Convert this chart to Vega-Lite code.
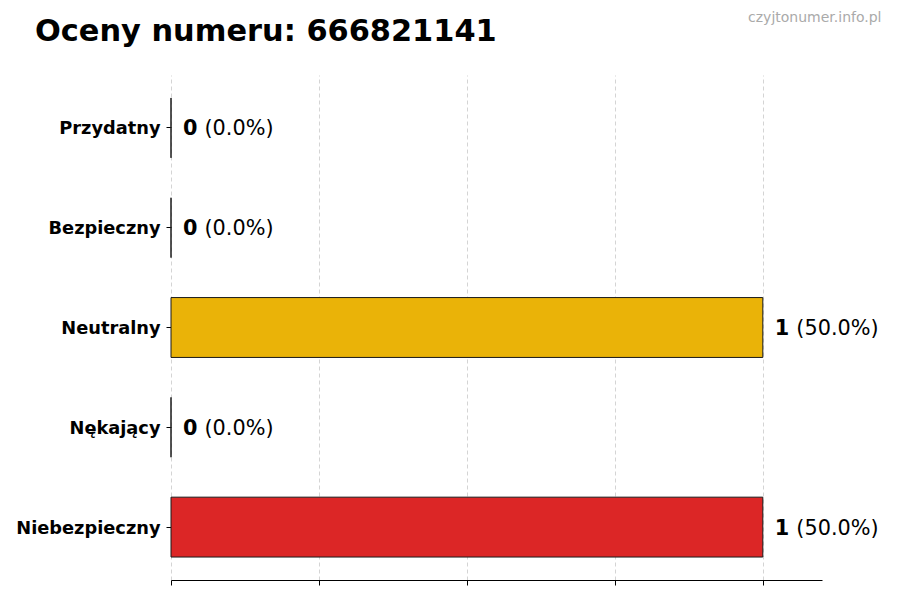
{
  "$schema": "https://vega.github.io/schema/vega-lite/v6.json",
  "width": 651,
  "height": 505,
  "autosize": {"type": "none"},
  "padding": {"left": 171, "top": 75, "right": 78, "bottom": 20},
  "background": "white",
  "config": {"font": "DejaVu Sans", "view": {"stroke": null}},
  "title": {
    "text": "Oceny numeru: 666821141",
    "anchor": "start",
    "frame": "group",
    "dx": -136,
    "dy": 61,
    "offset": 0,
    "baseline": "alphabetic",
    "fontSize": 30.4,
    "fontWeight": "bold",
    "color": "black"
  },
  "data": {
    "values": [
      {"ocena": "Przydatny", "liczba": 0, "procent": "(0.0%)"},
      {"ocena": "Bezpieczny", "liczba": 0, "procent": "(0.0%)"},
      {"ocena": "Neutralny", "liczba": 1, "procent": "(50.0%)"},
      {"ocena": "Nękający", "liczba": 0, "procent": "(0.0%)"},
      {"ocena": "Niebezpieczny", "liczba": 1, "procent": "(50.0%)"}
    ]
  },
  "encoding": {
    "y": {
      "field": "ocena",
      "type": "nominal",
      "sort": ["Przydatny", "Bezpieczny", "Neutralny", "Nękający", "Niebezpieczny"],
      "scale": {"paddingInner": 0.4, "paddingOuter": 0.23},
      "axis": {
        "title": null,
        "domain": false,
        "tickColor": "black",
        "tickSize": 5,
        "labelPadding": 6,
        "labelOffset": 1.5,
        "labelFontSize": 17.8,
        "labelFontWeight": "bold",
        "labelColor": "black"
      }
    }
  },
  "layer": [
    {
      "mark": {"type": "bar", "stroke": "#1a1a1a", "strokeWidth": 1},
      "encoding": {
        "x": {
          "field": "liczba",
          "type": "quantitative",
          "scale": {"domain": [0, 1.1], "nice": false},
          "axis": {
            "title": null,
            "labels": false,
            "values": [0, 0.25, 0.5, 0.75, 1],
            "tickSize": 5,
            "tickColor": "black",
            "domainColor": "black",
            "grid": true,
            "gridDash": [4, 3],
            "gridColor": "#d4d4d4"
          }
        },
        "color": {
          "field": "ocena",
          "type": "nominal",
          "scale": {
            "domain": ["Przydatny", "Bezpieczny", "Neutralny", "Nękający", "Niebezpieczny"],
            "range": ["#16a34a", "#2563eb", "#eab308", "#9333ea", "#dc2626"]
          },
          "legend": null
        }
      }
    },
    {
      "mark": {"type": "text", "align": "left", "baseline": "middle", "dx": 12, "dy": 1.5, "fontSize": 20.8, "fontWeight": "bold", "color": "black"},
      "encoding": {
        "x": {
          "field": "liczba",
          "type": "quantitative",
          "axis": {
            "orient": "top",
            "domain": false,
            "ticks": false,
            "labels": false,
            "grid": false,
            "title": "czyjtonumer.info.pl",
            "titleFontSize": 14,
            "titleFontWeight": "normal",
            "titleColor": "#aaaaaa",
            "titleAlign": "right",
            "titleBaseline": "alphabetic",
            "titleX": 710,
            "titleY": -54
          }
        },
        "text": {"field": "liczba", "type": "quantitative"}
      }
    },
    {
      "mark": {"type": "text", "align": "left", "baseline": "middle", "dx": 33.5, "dy": 1.5, "fontSize": 20.8, "color": "black"},
      "encoding": {
        "x": {"field": "liczba", "type": "quantitative", "axis": null},
        "text": {"field": "procent", "type": "nominal"}
      }
    }
  ],
  "resolve": {"axis": {"x": "independent"}}
}
